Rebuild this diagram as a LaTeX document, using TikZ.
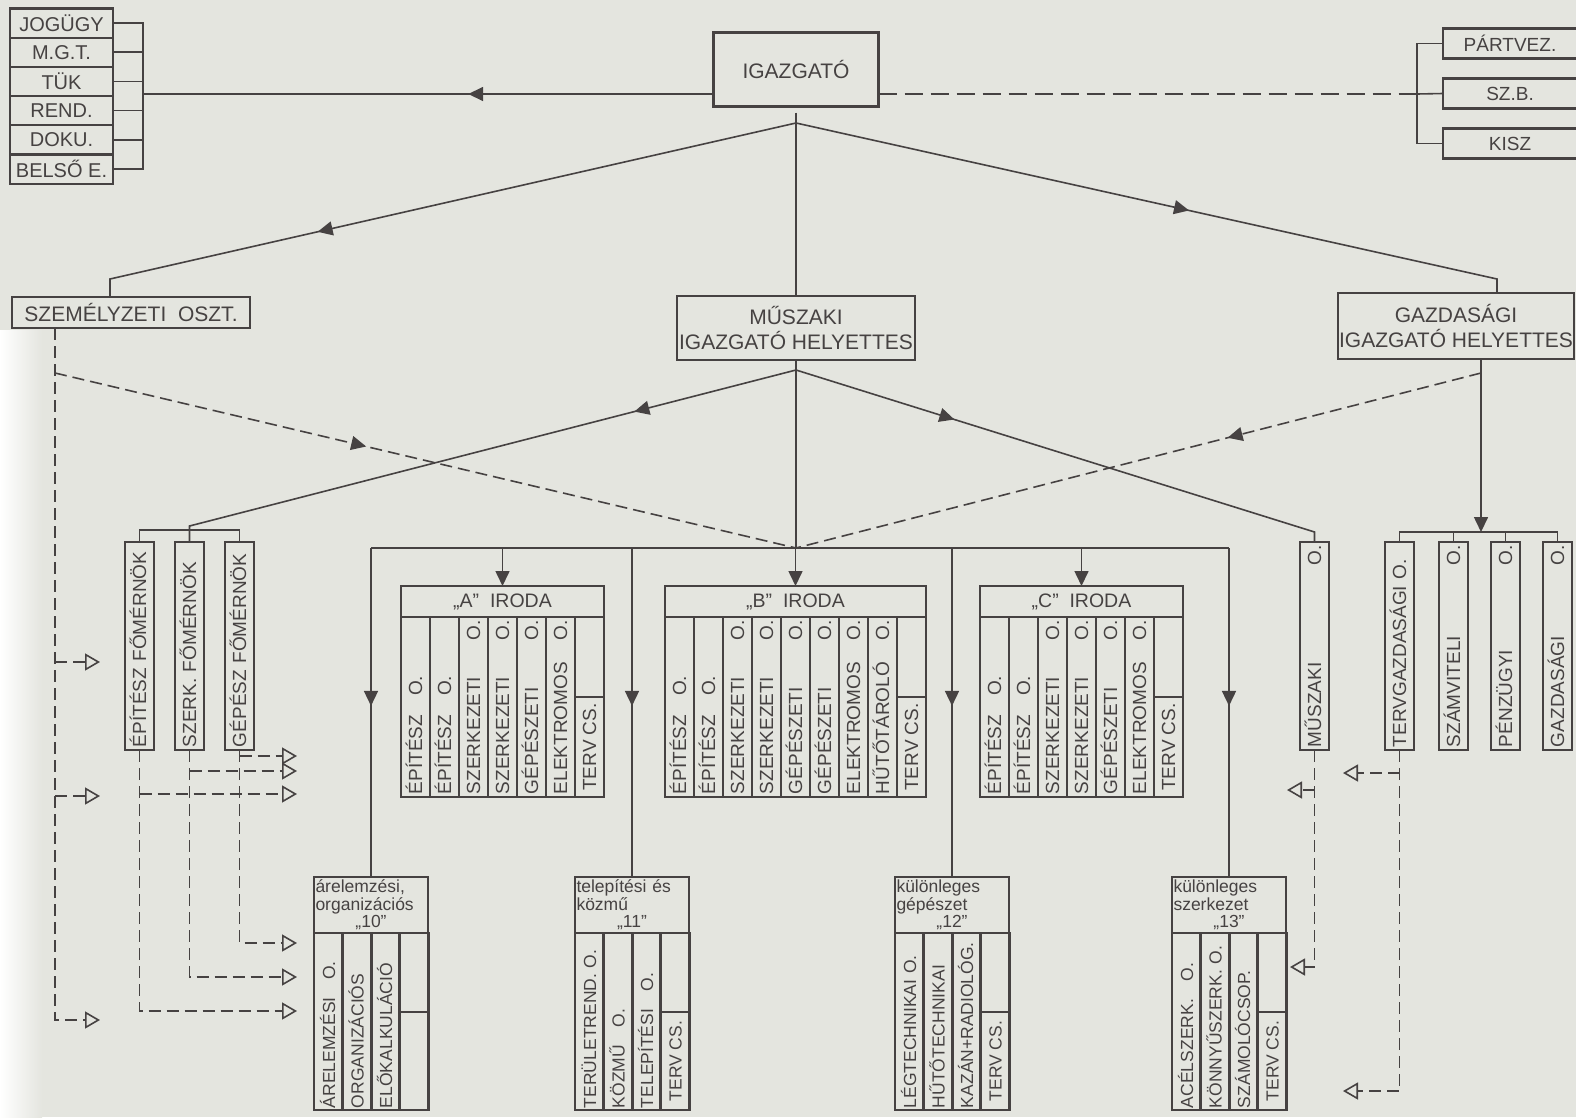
\documentclass[tikz,border=0pt]{standalone}
\usepackage{fontspec}
\setmainfont{Liberation Sans}
\usetikzlibrary{arrows.meta, positioning, calc, decorations.markings}
\definecolor{paper}{RGB}{228,229,223}
\definecolor{ink}{RGB}{70,66,66}

\begin{document}
\begin{tikzpicture}[x=1pt, y=-1pt,
    officebox/.style={rectangle, draw=ink, line width=2.2pt, inner sep=0pt, outer sep=0pt, align=center, text=ink, font=\fontsize{21}{25}\selectfont},
    listrow/.style={officebox, minimum width=103pt, minimum height=29.2pt, font=\fontsize{20}{20}\selectfont},
    partyrow/.style={officebox, anchor=west, minimum width=134pt, minimum height=30pt, font=\fontsize{19}{19}\selectfont},
    header/.style={officebox, anchor=north west, minimum height=31pt, font=\fontsize{19.5}{19.5}\selectfont},
    subheader/.style={officebox, anchor=north west, minimum width=114pt, minimum height=56pt, text width=111pt, inner xsep=1.5pt, inner ysep=1pt, align=left, font=\fontsize{17.5}{17.5}\selectfont},
    cell/.style={draw=ink, line width=2.2pt, rotate=90, anchor=north west, minimum height=29pt, inner xsep=3pt, inner ysep=0pt, outer sep=0pt, text height=13pt, text depth=0pt, text=ink, font=\fontsize{19}{19}\selectfont},
    colA/.style={cell, minimum width=180pt, text width=174pt, align=left},
    colF/.style={cell, minimum width=208pt, text width=202pt, align=left},
    colS/.style={cell, minimum width=177pt, text width=173pt, inner xsep=2pt, align=left, font=\fontsize{17.5}{17.5}\selectfont},
    part/.style={cell, minimum width=#1},
    spart/.style={cell, minimum width=#1, font=\fontsize{17.5}{17.5}\selectfont},
    link/.style={color=ink, line width=1.6pt},
    dlink/.style={link, dash pattern=on 12pt off 6pt},
    solidtip/.style={-{Triangle[length=15pt, width=14pt]}},
    opentip/.style={-{Triangle[open, length=15pt, width=17pt]}},
    flowmark/.style={postaction={decorate}, decoration={markings, mark=at position #1 with {\arrow{Triangle[length=15pt, width=14pt]}}}}
  ]

  \fill[paper] (0,0) rectangle (1576,1117);
  \shade[left color=white, right color=paper] (0,330) rectangle (42,1117);
  \useasboundingbox (0,0) rectangle (1576,1117);

  % director and staff units
  \node[officebox, line width=3.5pt, minimum width=165pt, minimum height=74pt] (igazgato) at (796,69.5) {IGAZGATÓ};
  \node[listrow] (jogugy) at (61.5,23) {JOGÜGY};
  \node[listrow] (mgt) [below=0pt of jogugy] {M.G.T.};
  \node[listrow] (tuk) [below=0pt of mgt] {TÜK};
  \node[listrow] (rend) [below=0pt of tuk] {REND.};
  \node[listrow] (doku) [below=0pt of rend] {DOKU.};
  \node[listrow] (belso) [below=0pt of doku] {BELSŐ E.};
  \node[partyrow] (partvez) at (1443,43.5) {PÁRTVEZ.};
  \node[partyrow] (szb) at (1443,93.5) {SZ.B.};
  \node[partyrow] (kisz) at (1443,143.5) {KISZ};

  % deputies
  \node[officebox, minimum width=238pt, minimum height=31pt] (szemelyzeti) at (131,312.5) {SZEMÉLYZETI\ \ OSZT.};
  \node[officebox, minimum width=238pt, minimum height=64pt] (muszaki) at (796,328) {MŰSZAKI\\IGAZGATÓ HELYETTES};
  \node[officebox, minimum width=236pt, minimum height=66pt] (gazdasagi) at (1456,326) {GAZDASÁGI\\IGAZGATÓ HELYETTES};

  % chief engineers and economic units
  \node[colF] (epfo) at (125,750) {ÉPÍTÉSZ FŐMÉRNÖK};
  \node[colF] (szfo) at (175,750) {SZERK.\ FŐMÉRNÖK};
  \node[colF] (gefo) at (225,750) {GÉPÉSZ FŐMÉRNÖK};
  \node[colF] (muszo) at (1300,750) {MŰSZAKI\hfill O.};
  \node[colF] (tervg) at (1385,750) {TERVGAZDASÁGI O.};
  \node[colF] (szamv) at (1439,750) {SZÁMVITELI\hfill O.};
  \node[colF] (penzu) at (1491,750) {PÉNZÜGYI\hfill O.};
  \node[colF] (gazdo) at (1543,750) {GAZDASÁGI\hfill O.};

  % offices A, B, C
  \node[header, minimum width=203pt] (airoda) at (401,586) {„A”\ \ IRODA};
  \foreach \t [count=\i] in {ÉPÍTÉSZ\quad O., ÉPÍTÉSZ\quad O., SZERKEZETI\hfill O., SZERKEZETI\hfill O., GÉPÉSZETI\hfill O., ELEKTROMOS\hfill O.}
    \node[colA] (a\i) at ({372+29*\i},797) {\t};
  \node[part=80pt] (a7) at (575,697) {};
  \node[part=100pt] (a8) at (575,797) {TERV CS.};

  \node[header, minimum width=261pt] (birod) at (665,586) {„B”\ \ IRODA};
  \foreach \t [count=\i] in {ÉPÍTÉSZ\quad O., ÉPÍTÉSZ\quad O., SZERKEZETI\hfill O., SZERKEZETI\hfill O., GÉPÉSZETI\hfill O., GÉPÉSZETI\hfill O., ELEKTROMOS\hfill O., HŰTŐTÁROLÓ\hfill O.}
    \node[colA] (b\i) at ({636+29*\i},797) {\t};
  \node[part=80pt] (b9) at (897,697) {};
  \node[part=100pt] (b10) at (897,797) {TERV CS.};

  \node[header, minimum width=203pt] (ciroda) at (980,586) {„C”\ \ IRODA};
  \foreach \t [count=\i] in {ÉPÍTÉSZ\quad O., ÉPÍTÉSZ\quad O., SZERKEZETI\hfill O., SZERKEZETI\hfill O., GÉPÉSZETI\hfill O., ELEKTROMOS\hfill O.}
    \node[colA] (c\i) at ({951+29*\i},797) {\t};
  \node[part=80pt] (c7) at (1154,697) {};
  \node[part=100pt] (c8) at (1154,797) {TERV CS.};

  % special groups 10-13
  \node[subheader] (arel) at (314,877) {árelemzési,\\organizációs\\\hspace*{\fill}„10”\hspace*{\fill}};
  \foreach \t [count=\i] in {ÁRELEMZÉSI\quad O., ORGANIZÁCIÓS, ELŐKALKULÁCIÓ}
    \node[colS] (arel\i) at ({285.5+28.5*\i},1110) {\t};
  \node[spart=79pt] (arel4) at (399.5,1012) {};
  \node[spart=98pt] (arel5) at (399.5,1110) {};

  \node[subheader] (telep) at (575,877) {telepítési és\\közmű\\\hspace*{\fill}„11”\hspace*{\fill}};
  \foreach \t [count=\i] in {TERÜLETREND.\ O., KÖZMŰ\quad O., TELEPÍTÉSI\quad O.}
    \node[colS] (telep\i) at ({546.5+28.5*\i},1110) {\t};
  \node[spart=79pt] (telep4) at (660.5,1012) {};
  \node[spart=98pt] (telep5) at (660.5,1110) {TERV CS.};

  \node[subheader] (kulgep) at (895,877) {különleges\\gépészet\\\hspace*{\fill}„12”\hspace*{\fill}};
  \foreach \t [count=\i] in {LÉGTECHNIKAI O., HŰTŐTECHNIKAI, KAZÁN+RADIOLÓG.}
    \node[colS] (kulgep\i) at ({866.5+28.5*\i},1110) {\t};
  \node[spart=79pt] (kulgep4) at (980.5,1012) {};
  \node[spart=98pt] (kulgep5) at (980.5,1110) {TERV CS.};

  \node[subheader] (kulszerk) at (1172,877) {különleges\\szerkezet\\\hspace*{\fill}„13”\hspace*{\fill}};
  \foreach \t [count=\i] in {ACÉLSZERK.\quad O., KÖNNYŰSZERK.\ O., SZÁMOLÓCSOP.}
    \node[colS] (kulszerk\i) at ({1143.5+28.5*\i},1110) {\t};
  \node[spart=79pt] (kulszerk4) at (1257.5,1012) {};
  \node[spart=98pt] (kulszerk5) at (1257.5,1110) {TERV CS.};

  % branch points and free ends
  \coordinate (lbr) at (143,94);
  \coordinate (pbr) at (1417,94);
  \coordinate (apex1) at (796,123);
  \coordinate (szfork) at (110,279);
  \coordinate (gzfork) at (1497,279);
  \coordinate (apex2) at (796,370);
  \coordinate (fotip) at (189.5,526);
  \coordinate (fobr) at (189.5,530);
  \coordinate (mutip) at (1314.5,532);
  \coordinate (hub) at (796,548);
  \coordinate (szout) at (55,373);
  \coordinate (gzout) at (1481,373);
  \coordinate (rbr) at (1481,532);
  \coordinate (stip1) at (100,662);
  \coordinate (stip2) at (100,796);
  \coordinate (stip3) at (100,1020);
  \coordinate (ftip1) at (297,756);
  \coordinate (ftip2) at (297,771);
  \coordinate (ftip3) at (297,794);
  \coordinate (ftip4) at (297,943);
  \coordinate (ftip5) at (297,977);
  \coordinate (ftip6) at (297,1011);
  \coordinate (mtip1) at (1287,790);
  \coordinate (mtip2) at (1290,967);
  \coordinate (ttip1) at (1343,773);
  \coordinate (ttip2) at (1343,1091);

  % top level lines
  \draw[link] (jogugy.east) -| (lbr) |- (belso.east);
  \foreach \n in {mgt,tuk,rend,doku}
    \draw[link] (\n.east) -- (\n.east -| lbr);
  \draw[link, flowmark=.43] (igazgato.west |- lbr) -- (lbr);
  \draw[link, dash pattern=on 18pt off 8pt] (igazgato.east |- pbr) -- (pbr);
  \draw[link] (partvez.west) -| (pbr) |- (kisz.west);
  \draw[link] (pbr) -- (szb.west);

  \draw[link, shorten <=6pt] (igazgato.south) -- (muszaki.north);
  \draw[link, flowmark=.68] (apex1) -- (szfork) -- (szfork |- szemelyzeti.north);
  \draw[link, flowmark=.55] (apex1) -- (gzfork) -- (gzfork |- gazdasagi.north);

  % technical deputy
  \draw[link] (muszaki.south) -- (hub);
  \draw[link, flowmark=.26] (apex2) -- (fotip) -- (szfo.east);
  \draw[link] (epfo.east) |- (fobr) -| (gefo.east);
  \draw[link, flowmark=.30] (apex2) -- (mutip) -- (muszo.east);
  \draw[link] (arel.north |- hub) -- (kulszerk.north |- hub);
  \foreach \n in {arel,telep,kulgep,kulszerk}
    \draw[link, flowmark=.48] (\n.north |- hub) -- (\n.north);
  \foreach \n in {airoda,birod,ciroda}
    \draw[link, solidtip] (\n.north |- hub) -- (\n.north);

  % economic deputy
  \draw[link, solidtip] (gazdasagi.south -| rbr) -- (rbr);
  \draw[link] (tervg.east) |- (rbr) -| (gazdo.east);
  \draw[link] (szamv.east) -- (szamv.east |- rbr);
  \draw[link] (penzu.east) -- (penzu.east |- rbr);

  % dashed relations
  \draw[dlink, flowmark=.42] (szout) -- (hub);
  \draw[dlink, flowmark=.37] (gzout) -- (hub);
  \draw[dlink, opentip] (szemelyzeti.south -| szout) |- (stip3);
  \draw[dlink, opentip] (szout |- stip1) -- (stip1);
  \draw[dlink, opentip] (szout |- stip2) -- (stip2);
  \draw[dlink, opentip] (epfo.west) |- (ftip6);
  \draw[dlink, opentip] (epfo.west |- ftip3) -- (ftip3);
  \draw[dlink, opentip] (szfo.west) |- (ftip5);
  \draw[dlink, opentip] (szfo.west |- ftip2) -- (ftip2);
  \draw[dlink, opentip] (gefo.west) |- (ftip4);
  \draw[dlink, opentip] (gefo.west |- ftip1) -- (ftip1);
  \draw[dlink, opentip] (muszo.west) |- (mtip2);
  \draw[dlink, opentip] (muszo.west |- mtip1) -- (mtip1);
  \draw[dlink, opentip] (tervg.west) |- (ttip2);
  \draw[dlink, opentip] (tervg.west |- ttip1) -- (ttip1);

\end{tikzpicture}
\end{document}
